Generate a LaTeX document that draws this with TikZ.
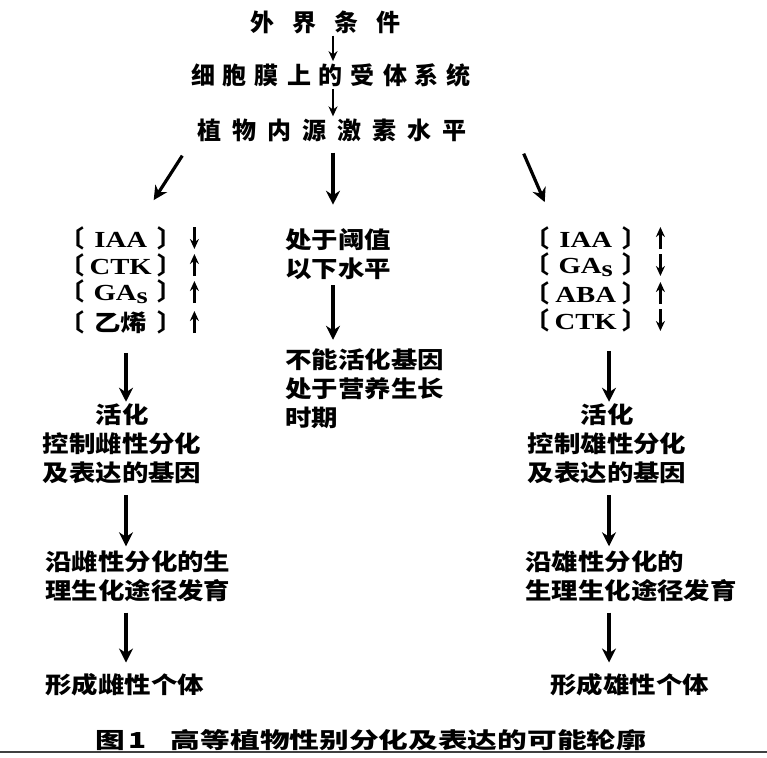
\documentclass[tikz,border=0pt]{standalone}
\usepackage{fontspec}
\usetikzlibrary{arrows.meta}
\newfontfamily\cjktop{Noto Sans CJK SC}
\newfontfamily\cjkbody{Noto Sans CJK SC}[FakeStretch=1.15]
\newfontfamily\cjkcap{Noto Sans CJK SC}[FakeStretch=1.35]
\newfontfamily\cjkbr{Noto Sans CJK SC}
\newfontfamily\latb{Liberation Serif}[FakeStretch=1.25]
\tikzset{
  toptxt/.style={font=\cjktop\bfseries\fontsize{24}{28}\selectfont, inner sep=2pt},
  body/.style={font=\cjkbody\bfseries\fontsize{23}{29}\selectfont, inner sep=2pt},
  lst/.style={font=\latb\bfseries\fontsize{23}{26}\selectfont, anchor=west, inner sep=2pt},
  captxt/.style={font=\cjkcap\bfseries\fontsize{22}{26}\selectfont, anchor=west, inner sep=2pt},
  big/.style={line width=3.2pt, -{Stealth[length=14pt,width=14pt]}},
  thinarr/.style={line width=1.8pt, -{Stealth[length=10pt,width=9pt]}},
  ud/.style={line width=2.2pt, -{Stealth[length=10pt,width=9pt]}},
}
\newcommand\brow[1]{{\cjkbr\fontsize{24}{26}\selectfont 〔}\makebox[73pt][c]{#1}{\cjkbr\fontsize{24}{26}\selectfont 〕}}
\begin{document}
\begin{tikzpicture}[x=1pt,y=-1pt]
\useasboundingbox (0,0) rectangle (767,757);
% columns
\coordinate (cc) at (333,0);
\coordinate (cl) at (126,0);
\coordinate (cr) at (609,0);
% top rows
\node[toptxt] (t1) at (325,22) {外\hspace{18pt}界\hspace{18pt}条\hspace{18pt}件};
\node[toptxt] (t2) at (331,75) {细\hspace{8pt}胞\hspace{8pt}膜\hspace{8pt}上\hspace{8pt}的\hspace{8pt}受\hspace{8pt}体\hspace{8pt}系\hspace{8pt}统};
\node[toptxt] (t3) at (332,130) {植\hspace{11pt}物\hspace{11pt}内\hspace{11pt}源\hspace{11pt}激\hspace{11pt}素\hspace{11pt}水\hspace{11pt}平};
\draw[thinarr] (t1.south -| cc) -- (t2.north -| cc);
\draw[thinarr] (t2.south -| cc) -- (t3.north -| cc);
% left list
\node[lst] (Lr1) at (58,238) {\brow{IAA}};
\node[lst] (Lr2) at (58,265) {\brow{CTK}};
\node[lst] (Lr3) at (58,292) {\brow{GA\raisebox{-3pt}{s}}};
\node[lst] (Lr4) at (58,322) {\brow{\cjkbody\fontsize{23}{26}\selectfont 乙烯}};
\draw[ud] ([xshift=11pt,yshift=11pt]Lr1.east) -- ([xshift=11pt,yshift=-11pt]Lr1.east);
\draw[ud] ([xshift=11pt,yshift=-11pt]Lr2.east) -- ([xshift=11pt,yshift=11pt]Lr2.east);
\draw[ud] ([xshift=11pt,yshift=-11pt]Lr3.east) -- ([xshift=11pt,yshift=11pt]Lr3.east);
\draw[ud] ([xshift=11pt,yshift=-11pt]Lr4.east) -- ([xshift=11pt,yshift=11pt]Lr4.east);
% right list
\node[lst] (Rr1) at (523,238) {\brow{IAA}};
\node[lst] (Rr2) at (523,265) {\brow{GA\raisebox{-3pt}{s}}};
\node[lst] (Rr3) at (523,293) {\brow{ABA}};
\node[lst] (Rr4) at (523,320) {\brow{CTK}};
\draw[ud] ([xshift=12pt,yshift=-11pt]Rr1.east) -- ([xshift=12pt,yshift=11pt]Rr1.east);
\draw[ud] ([xshift=12pt,yshift=11pt]Rr2.east) -- ([xshift=12pt,yshift=-11pt]Rr2.east);
\draw[ud] ([xshift=12pt,yshift=-11pt]Rr3.east) -- ([xshift=12pt,yshift=11pt]Rr3.east);
\draw[ud] ([xshift=12pt,yshift=11pt]Rr4.east) -- ([xshift=12pt,yshift=-11pt]Rr4.east);
% middle
\node[body, anchor=west, align=left] (M1) at (283,254.5) {处于阈值\\以下水平};
\node[body, anchor=west, align=left] (M2) at (283,389) {不能活化基因\\处于营养生长\\时期};
% left column
\node[body, align=center] (L1) at (122,444) {活化\\控制雌性分化\\及表达的基因};
\node[body, anchor=west, align=left] (L2) at (43,576) {沿雌性分化的生\\理生化途径发育};
\node[body, anchor=west] (L3) at (43,685) {形成雌性个体};
% right column
\node[body, align=center] (R1) at (607,444) {活化\\控制雄性分化\\及表达的基因};
\node[body, anchor=west, align=left] (R2) at (523,576) {沿雄性分化的\\生理生化途径发育};
\node[body, anchor=west] (R3) at (548,685) {形成雄性个体};
% big arrows from t3
\draw[big] ([xshift=-13pt,yshift=-12pt]t3.south west) -- ([xshift=33pt,yshift=24pt]Lr1.north);
\draw[big, shorten <=9pt, shorten >=22pt] (t3.south -| cc) -- (M1.north -| cc);
\draw[big] ([xshift=55pt,yshift=-10pt]t3.south east) -- ([xshift=-41pt,yshift=22pt]Rr1.north);
\draw[big, shorten <=3pt, shorten >=7pt] (M1.south -| cc) -- (M2.north -| cc);
\draw[big, shorten <=17pt, shorten >=0pt] (Lr4.south -| cl) -- (L1.north -| cl);
\draw[big, shorten <=9pt, shorten >=2pt] (L1.south -| cl) -- (L2.north -| cl);
\draw[big, shorten <=9pt, shorten >=9pt] (L2.south -| cl) -- (L3.north -| cl);
\draw[big, shorten <=17pt, shorten >=0pt] (Rr4.south -| cr) -- (R1.north -| cr);
\draw[big, shorten <=9pt, shorten >=2pt] (R1.south -| cr) -- (R2.north -| cr);
\draw[big, shorten <=9pt, shorten >=9pt] (R2.south -| cr) -- (R3.north -| cr);
% caption
\node[captxt] (caption) at (93,740) {图\hspace{4pt}1\hspace{24pt}高等植物性别分化及表达的可能轮廓};
\draw[line width=2pt, black!75] (0,752) -- (767,752);
\end{tikzpicture}
\end{document}
